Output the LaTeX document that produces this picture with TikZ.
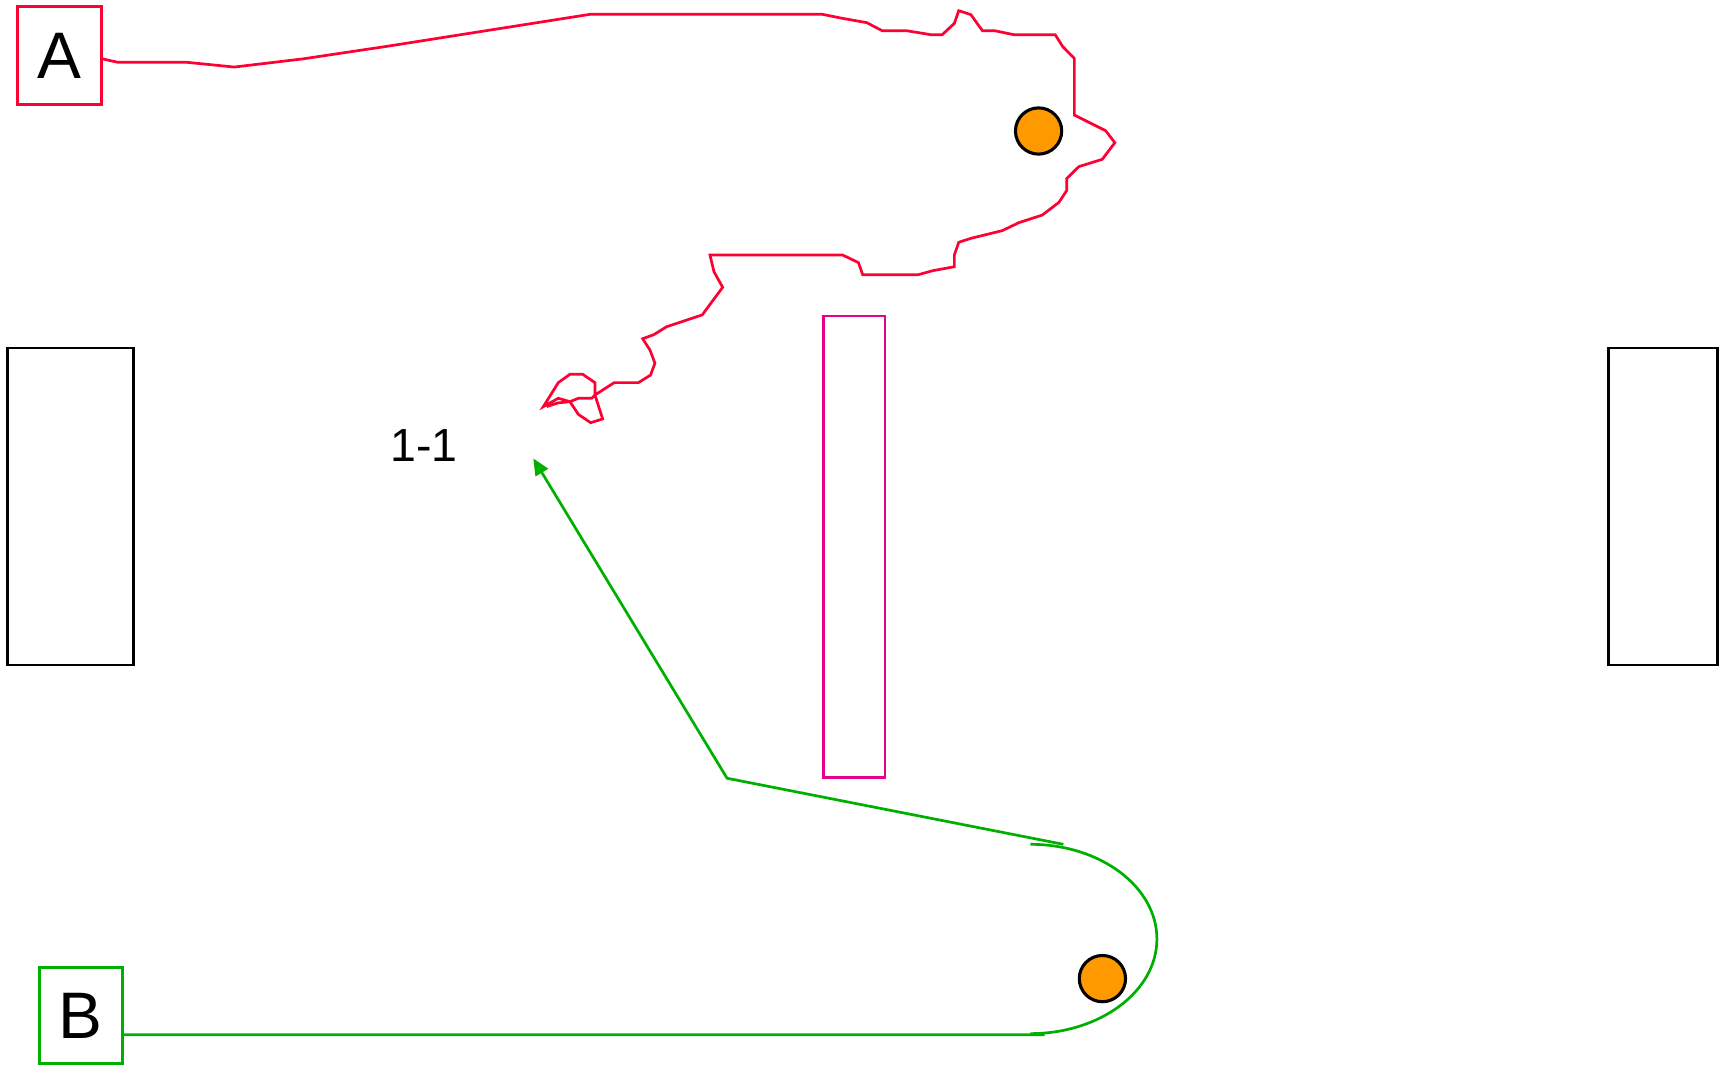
\documentclass[tikz,border=0pt]{standalone}
\usepackage{fontspec}
\setmainfont{Liberation Sans}
\usepackage{tikz}
\usetikzlibrary{arrows.meta, positioning, calc}

\definecolor{trackred}{RGB}{255,0,51}
\definecolor{trackgreen}{RGB}{0,176,0}
\definecolor{wallpink}{RGB}{230,0,140}
\definecolor{ballorange}{RGB}{255,153,0}

\begin{document}
\begin{tikzpicture}[x=0.1mm,y=-0.1mm,line width=0.7pt,
  ball/.style={circle,draw=black,line width=0.8pt,fill=ballorange,minimum size=4.2mm,inner sep=0pt},
  tag/.style={rectangle,inner sep=0pt,font=\fontsize{17}{20}\selectfont}]
  \useasboundingbox (0,0) rectangle (1568,968);

  % Goals and middle wall
  \draw (7,316) rectangle (121,604);
  \draw (1461,316) rectangle (1560,604);
  \draw[wallpink] (748,287) rectangle (804,706);

  % Players
  \node[tag,draw=trackred,minimum width=7.6mm,minimum height=8.9mm] (A) at (54,50.5) {A};
  \node[tag,draw=trackgreen,minimum width=7.5mm,minimum height=8.7mm] (B) at (73.5,922.5) {B};

  % Balls
  \node[ball] (ballA) at (943.5,119) {};
  \node[ball] (ballB) at (1001.5,889) {};

  % Score
  \node[font=\fontsize{12}{14}\selectfont] (score) at (385,404.5) {1-1};

  % Track of A
  \draw[trackred] ($(A.east)+(0,3)$) -- (107,56.6) -- (169.7,56.6) -- (212.8,60.9)
    -- (275,53.5) -- (352,42) -- (536,13) -- (747,13) -- (765.6,16.7) -- (787.5,20.6)
    -- (801.4,27.9) -- (823.7,27.9) -- (845.6,31.5) -- (856,31.5) -- (867,21.2)
    -- (871,9.7) -- (882,13.3) -- (892.5,27.9) -- (903.6,27.9) -- (921,31.5)
    -- (958.6,31.5) -- (965.5,42.4) -- (976,53) -- (976,104.5) -- (1004.4,118.7)
    -- (1012.8,129.6) -- (1001.4,144.7) -- (980,151.4) -- (969,162.3) -- (969,173.2)
    -- (962,183.8) -- (947,195.3) -- (925.5,202.3) -- (910.6,209.5) -- (882,216.5)
    -- (871,220.1) -- (867,231.6) -- (867,242.3) -- (847.3,245.9) -- (834.4,249.5)
    -- (783.7,249.5) -- (779.9,238.6) -- (765.6,231.7) -- (645,231.7) -- (648.6,246.8)
    -- (656.5,261) -- (638,286) -- (605.6,296.8) -- (594,304) -- (583.8,307.7)
    -- (590.5,318) -- (595,330) -- (591,340.7) -- (580,347.6) -- (558,347.6)
    -- (540.5,358.8) -- (547.5,380.6) -- (536.6,384) -- (525.4,376.4) -- (517.8,364.9)
    -- (507.2,361.8) -- (493.6,369.4) -- (507.2,347.6) -- (517.8,340) -- (529.3,340)
    -- (540.5,347.6) -- (540.5,358.8) -- (537.5,361.8) -- (525.4,361.8) -- (517.8,364.9)
    -- (507,366) -- (496.6,369.4);

  % Track of B
  \coordinate (turnTop) at (966,767);
  \coordinate (kick) at (660.5,707);
  \coordinate (shot) at (484.5,416.5);
  \draw[trackgreen] ($(B.east)+(-2,17.5)$) -- (949,940);
  \draw[trackgreen] (936,939) arc[start angle=90,end angle=-90,x radius=115,y radius=86];
  \draw[trackgreen,-{Triangle[length=1.5mm,width=1.3mm]}] (turnTop) -- (kick) -- (shot);
\end{tikzpicture}
\end{document}
